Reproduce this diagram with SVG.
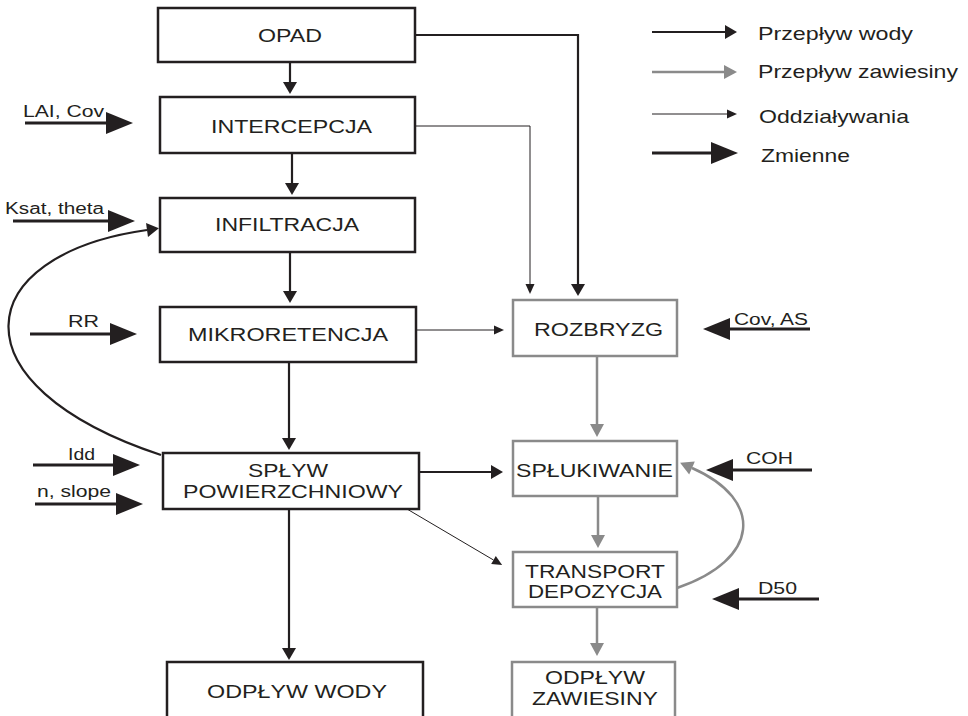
<svg xmlns="http://www.w3.org/2000/svg" width="968" height="716" viewBox="0 0 968 716">
<style>
text{font-family:"Liberation Sans",Arial,sans-serif;fill:#231f20}
.lbl{font-size:19px;text-anchor:middle}
.leg{font-size:19px}
.var{font-size:16px}
.bk{fill:#fff;stroke:#231f20;stroke-width:2.5}
.gy{fill:#fff;stroke:#8a8a8a;stroke-width:2.5}
.fw{fill:none;stroke:#231f20;stroke-width:2.2}
.fs{fill:none;stroke:#8a8a8a;stroke-width:2.5}
.th{fill:none;stroke:#231f20;stroke-width:1}
.vr{fill:none;stroke:#231f20;stroke-width:3.2}
</style>
<defs>
<marker id="mW" markerUnits="userSpaceOnUse" markerWidth="12" markerHeight="14" refX="0" refY="7" orient="auto" overflow="visible"><path d="M0,0 L12,7 L0,14 z" fill="#231f20"/></marker>
<marker id="mS" markerUnits="userSpaceOnUse" markerWidth="13" markerHeight="14" refX="0" refY="7" orient="auto" overflow="visible"><path d="M0,0 L13,7 L0,14 z" fill="#8a8a8a"/></marker>
<marker id="mT" markerUnits="userSpaceOnUse" markerWidth="10" markerHeight="9" refX="0" refY="4.5" orient="auto" overflow="visible"><path d="M0,0 L10,4.5 L0,9 z" fill="#231f20"/></marker>
<marker id="mV" markerUnits="userSpaceOnUse" markerWidth="27" markerHeight="22" refX="0" refY="11" orient="auto" overflow="visible"><path d="M0,0 L27,11 L0,22 z" fill="#231f20"/></marker>
</defs>

<g id="connectors">
<path class="fw" d="M290,62 V82" marker-end="url(#mW)"/>
<path class="fw" d="M292,153 V183" marker-end="url(#mW)"/>
<path class="fw" d="M290,252 V291" marker-end="url(#mW)"/>
<path class="fw" d="M289,362 V438" marker-end="url(#mW)"/>
<path class="fw" d="M289,509 V648" marker-end="url(#mW)"/>
<path class="fw" d="M415,35 H578 V284" marker-end="url(#mW)"/>
<path class="fw" d="M419,472 H491" marker-end="url(#mW)"/>
<path class="th" d="M415,126 H530 V284" marker-end="url(#mT)"/>
<path class="th" d="M416,330 H494" marker-end="url(#mT)"/>
<path class="th" d="M407,509 L493.5,560" marker-end="url(#mT)"/>
<path class="fw" d="M161,455 C-50,385 -30,255 147,230" marker-end="url(#mW)"/>
<path class="fs" d="M597,356 V424" marker-end="url(#mS)"/>
<path class="fs" d="M598,496 V535" marker-end="url(#mS)"/>
<path class="fs" d="M597,607 V643" marker-end="url(#mS)"/>
<path class="fs" d="M677,588 C760,560 765,500 692,468" marker-end="url(#mS)"/>
<path class="vr" d="M25,123 H106" marker-end="url(#mV)"/>
<path class="vr" d="M13,221 H108" marker-end="url(#mV)"/>
<path class="vr" d="M30,334 H110" marker-end="url(#mV)"/>
<path class="vr" d="M33,465 H113" marker-end="url(#mV)"/>
<path class="vr" d="M35,504 H116" marker-end="url(#mV)"/>
<path class="vr" d="M810,329 H730" marker-end="url(#mV)"/>
<path class="vr" d="M812,470 H733" marker-end="url(#mV)"/>
<path class="vr" d="M819,599 H739" marker-end="url(#mV)"/>
</g>

<g id="opad"><rect class="bk" x="158" y="8" width="257" height="54"/><text class="lbl" x="290" y="42" textLength="64" lengthAdjust="spacingAndGlyphs">OPAD</text></g>
<g id="intercepcja"><rect class="bk" x="160" y="97" width="255" height="56"/><text class="lbl" x="291.5" y="133" textLength="161" lengthAdjust="spacingAndGlyphs">INTERCEPCJA</text></g>
<g id="infiltracja"><rect class="bk" x="160" y="198" width="255" height="54"/><text class="lbl" x="287" y="231" textLength="144" lengthAdjust="spacingAndGlyphs">INFILTRACJA</text></g>
<g id="mikroretencja"><rect class="bk" x="160" y="307" width="256" height="55"/><text class="lbl" x="288" y="341" textLength="200" lengthAdjust="spacingAndGlyphs">MIKRORETENCJA</text></g>
<g id="splyw"><rect class="bk" x="163" y="453" width="256" height="56"/><text class="lbl" x="288" y="477" textLength="80" lengthAdjust="spacingAndGlyphs">SPŁYW</text><text class="lbl" x="293" y="498" textLength="220" lengthAdjust="spacingAndGlyphs">POWIERZCHNIOWY</text></g>
<g id="odplyw-wody"><rect class="bk" x="167" y="662" width="256" height="64"/><text class="lbl" x="297" y="698" textLength="180" lengthAdjust="spacingAndGlyphs">ODPŁYW WODY</text></g>
<g id="rozbryzg"><rect class="gy" x="513" y="300" width="164" height="56"/><text class="lbl" x="598.5" y="336" textLength="129" lengthAdjust="spacingAndGlyphs">ROZBRYZG</text></g>
<g id="splukiwanie"><rect class="gy" x="513" y="441" width="164" height="55"/><text class="lbl" x="594.5" y="477" textLength="157" lengthAdjust="spacingAndGlyphs">SPŁUKIWANIE</text></g>
<g id="transport"><rect class="gy" x="513" y="552" width="164" height="55"/><text class="lbl" x="595" y="578" textLength="140" lengthAdjust="spacingAndGlyphs">TRANSPORT</text><text class="lbl" x="595" y="598" textLength="134" lengthAdjust="spacingAndGlyphs">DEPOZYCJA</text></g>
<g id="odplyw-zawiesiny"><rect class="gy" x="512" y="662" width="163" height="64"/><text class="lbl" x="595" y="684" textLength="100" lengthAdjust="spacingAndGlyphs">ODPŁYW</text><text class="lbl" x="595" y="705" textLength="126" lengthAdjust="spacingAndGlyphs">ZAWIESINY</text></g>

<g id="variables">
<text class="var" x="23" y="117" textLength="81" lengthAdjust="spacingAndGlyphs">LAI, Cov</text>
<text class="var" x="5" y="214" textLength="99" lengthAdjust="spacingAndGlyphs">Ksat, theta</text>
<text class="var" x="68" y="327" textLength="31" lengthAdjust="spacingAndGlyphs">RR</text>
<text class="var" x="68" y="460" textLength="27" lengthAdjust="spacingAndGlyphs">Idd</text>
<text class="var" x="37" y="497" textLength="74" lengthAdjust="spacingAndGlyphs">n, slope</text>
<text class="var" x="734" y="325" textLength="74" lengthAdjust="spacingAndGlyphs">Cov, AS</text>
<text class="var" x="746" y="464" textLength="47" lengthAdjust="spacingAndGlyphs">COH</text>
<text class="var" x="758" y="594" textLength="39" lengthAdjust="spacingAndGlyphs">D50</text>
</g>

<g id="legend">
<path class="fw" d="M652,32 H725" marker-end="url(#mW)"/>
<path class="fs" d="M652,72 H724" marker-end="url(#mS)"/>
<path class="th" d="M652,114 H727" marker-end="url(#mT)"/>
<path class="vr" d="M652,153 H711" marker-end="url(#mV)"/>
<text class="leg" x="758" y="40" textLength="155" lengthAdjust="spacingAndGlyphs">Przepływ wody</text>
<text class="leg" x="758" y="78" textLength="200" lengthAdjust="spacingAndGlyphs">Przepływ zawiesiny</text>
<text class="leg" x="759" y="123" textLength="150" lengthAdjust="spacingAndGlyphs">Oddziaływania</text>
<text class="leg" x="761" y="162" textLength="89" lengthAdjust="spacingAndGlyphs">Zmienne</text>
</g>
</svg>
